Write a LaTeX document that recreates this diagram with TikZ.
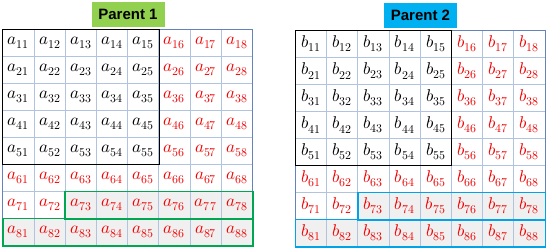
\documentclass[tikz,border=0pt]{standalone}
\usepackage{fontspec}
\usepackage{unicode-math}
\setsansfont{Liberation Sans}
\setmathfont{Latin Modern Math}
\usetikzlibrary{positioning}

\definecolor{boxgreen}{RGB}{0,166,81}
\definecolor{boxblue}{RGB}{0,162,232}
\definecolor{titlegreen}{RGB}{146,208,80}
\definecolor{titleblue}{RGB}{0,176,240}
\definecolor{cellgray}{RGB}{240,240,240}
\definecolor{gridblue}{RGB}{176,196,224}
\definecolor{edgeblue}{RGB}{100,130,190}
\definecolor{cellred}{RGB}{240,0,0}

\begin{document}
\begin{tikzpicture}[x=1pt,y=-1pt,
    cell/.style={minimum width=31.2pt,minimum height=27pt,inner sep=0pt,
      font=\fontsize{17}{19}\selectfont},
    gridline/.style={draw=gridblue,line width=0.7pt},
    outline/.style={draw=edgeblue,line width=1pt},
    blockline/.style={draw=black,line width=1.2pt},
    swapline/.style={draw=#1,line width=1.6pt},
    ptitle/.style={minimum width=73pt,minimum height=25pt,inner sep=0pt,
      font=\sffamily\bfseries\fontsize{15}{18}\selectfont}]
  \useasboundingbox (0,0) rectangle (550,252);

  \foreach \p/\ltr/\ox/\oy/\bc/\tf in {1/a/3/29.5/boxgreen/titlegreen,
      2/b/295.5/30.5/boxblue/titleblue} {
    % cells
    \foreach \r in {1,...,8} {
      \foreach \c in {1,...,8} {
        \def\tc{cellred}\def\fc{white}
        \ifnum\r<6 \ifnum\c<6 \def\tc{black}\fi\fi
        \ifnum\r=8 \def\fc{cellgray}\fi
        \ifnum\r=7 \ifnum\c>2 \def\fc{cellgray}\fi\fi
        \node[cell,fill=\fc,text=\tc] (\ltr\r\c)
          at ({\ox+(\c-0.5)*31.2},{\oy+(\r-0.5)*27}) {$\ltr_{\r\c}$};
      }
    }

    % grid lines
    \foreach \k in {2,...,8} {
      \draw[gridline] (\ltr\k1.north west) -- (\ltr\k8.north east);
      \draw[gridline] (\ltr1\k.north west) -- (\ltr8\k.south west);
    }
    \draw[outline] (\ltr11.north west) rectangle (\ltr88.south east);

    % kept block and swapped rows
    \draw[blockline] (\ltr11.north west) rectangle (\ltr55.south east);
    \draw[swapline=\bc] (\ltr73.north west) rectangle (\ltr78.south east);
    \draw[swapline=\bc] (\ltr81.north west) rectangle (\ltr88.south east);

    % title
    \node[ptitle,fill=\tf,above=2pt of \ltr14.north east] (t\ltr) {Parent \p};
  }
\end{tikzpicture}
\end{document}
